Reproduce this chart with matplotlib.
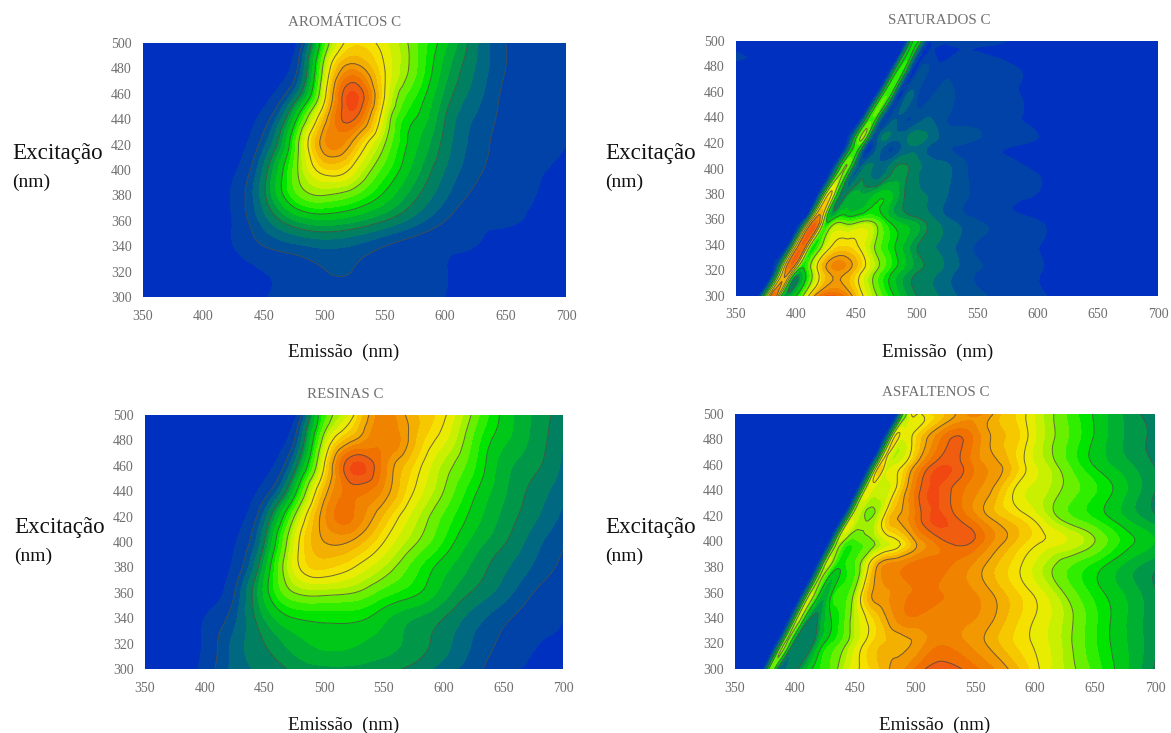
import numpy as np
import matplotlib
matplotlib.use('Agg')
import matplotlib.pyplot as plt
import matplotlib.tri as mtri
from matplotlib.colors import ListedColormap, BoundaryNorm

plt.rcParams['font.family'] = ['Liberation Serif', 'DejaVu Serif']

excitation = [300, 320, 340, 360, 380, 400, 420, 440, 460, 480, 500]
emission = [350, 375, 400, 425, 450, 475, 500, 525, 550, 575, 600, 625, 650, 675, 700]

aromaticos = [
    [0, 0, 0, 0, .9, 1.2, 1.3, 1.3, 1.25, 1.15, 1, .2, 0, 0, 0],
    [0, 0, 0, .2, 1, 1.3, 1.95, 1.95, 1.4, 1.2, 1.05, .3, 0, 0, 0],
    [0, 0, 0, 1, 2, 2.5, 2.8, 2.6, 2, 1.5, 1.2, 1, .3, 0, 0],
    [0, 0, 0, 1.1, 3, 4.6, 5.2, 4.8, 4, 3, 2, 1.3, 1.2, .7, .4],
    [0, 0, 0, 1.2, 3.8, 7, 8, 7.3, 5.8, 4.2, 2.8, 1.8, 1.3, 1, .6],
    [0, 0, 0, .8, 3.5, 7.5, 10.5, 9.5, 7, 5, 3.3, 2.2, 1.5, 1.1, .8],
    [0, 0, 0, .3, 2.5, 7, 12.5, 11.5, 8, 5.5, 3.7, 2.4, 1.6, 1.2, 1],
    [0, 0, 0, 0, 1.5, 5.5, 11.5, 14, 9, 6, 4, 2.6, 1.7, 1.2, 1.05],
    [0, 0, 0, 0, .5, 3, 9.5, 14.8, 10, 6.8, 4.5, 3, 1.8, 1.3, 1.1],
    [0, 0, 0, 0, 0, 1.5, 8.5, 12.5, 10, 7.5, 5, 3.3, 2, 1.4, 1.15],
    [0, 0, 0, 0, 0, .5, 7, 10.5, 9.5, 7.5, 5.5, 3.5, 2, 1.5, 1.2],
]

resinas = [
    [0, 0, 1.4, 2.9, 3.5, 4.2, 4.5, 4.5, 4.2, 3.8, 3, 2.3, 1.3, .8, .1],
    [0, 0, 1.2, 2.9, 4, 5, 5.5, 5.4, 5, 4.4, 3.6, 2.6, 1.8, 1.1, .8],
    [0, 0, 1, 2.5, 4.7, 6, 6.2, 6.2, 5.5, 4.7, 4, 3, 2.2, 1.5, 1],
    [0, 0, .2, 2, 5.5, 8, 8.3, 8, 7, 6.2, 5, 3.9, 3, 2, 1.3],
    [0, 0, 0, 1.3, 5, 9.5, 10.8, 10, 8.6, 7, 5.6, 4.5, 3.5, 2.6, 1.8],
    [0, 0, 0, .9, 4, 9.3, 12, 11.8, 10, 8.2, 6.6, 5.1, 4.1, 3, 2.1],
    [0, 0, 0, .4, 3, 8, 12.5, 13.3, 11.2, 9, 7.2, 5.7, 4.5, 3.5, 2.5],
    [0, 0, 0, 0, 1.5, 5.5, 11.5, 13.6, 12.5, 10, 8, 6.2, 4.8, 3.8, 2.9],
    [0, 0, 0, 0, .5, 3.5, 10, 14.8, 13, 10.6, 8.5, 6.8, 5, 4.2, 3.2],
    [0, 0, 0, 0, 0, 2, 8.5, 12, 13.3, 11.5, 9.5, 7.2, 5.5, 4.5, 3.4],
    [0, 0, 0, 0, 0, .5, 7, 10, 13, 11.5, 10.2, 7.8, 5.8, 4.6, 3.6],
]

# saturados e asfaltenos: colunas seguem a diagonal de espalhamento
offsets = [-170, -1, 3, 6, 9, 13, 18, 25, 35, 50, 70, 90, 110, 130, 150, 175, 210, 240, 270, 300, 340]
edge_sat = [368, 380, 392, 405, 417, 429, 441, 453, 466, 478, 490]
edge_asf = [373, 384, 395, 406, 417, 428, 440, 451, 462, 473, 484]

saturados = [
    [0, 0, 3, 7, 11, 15, 9, 5.5, 8, 14, 14.5, 10.5, 7.4, 5.1, 4, 2.5, 1.6, 1, .2, 0, 0],
    [0, 0, 3, 7, 11, 14, 10, 6.5, 10, 13.5, 12, 8.5, 6, 4.6, 3.2, 1.9, 1.3, .6, 0, 0, 0],
    [0, 0, 3, 8, 12, 15, 11, 7.5, 10.5, 11.5, 9.5, 7, 4.9, 3.7, 2.3, 1.5, 1, .4, 0, 0, 0],
    [0, 0, 3, 8, 12, 14, 9, 7, 8, 8.5, 7, 5.5, 4, 2.6, 1.8, 1.3, .7, .1, 0, 0, 0],
    [0, 0, 3, 7, 10.5, 10.5, 6, 5, 5.8, 6.4, 5.4, 4, 2.9, 1.9, 1.4, 1.05, .5, 0, 0, 0, 0],
    [0, 0, 3, 6, 8.5, 8.5, 4.5, 3.5, 3.8, 4.6, 4.4, 3.5, 2.2, 1.6, 1.2, .9, .3, 0, 0, 0, 0],
    [0, 0, 3, 6, 8, 8, 3, 2.5, 3, 3.7, 3.2, 2.2, 1.7, 1.3, 1, .5, 0, 0, 0, 0, 0],
    [0, 0, 2.5, 6, 8, 7.5, 3, 2, 2.5, 2.6, 2.2, 1.7, 1.3, 1.05, .6, .2, 0, 0, 0, 0, 0],
    [0, 0, 2.5, 6, 8, 7.5, 2.5, 2, 2.1, 2.05, 1.6, 1.3, 1.1, .8, .3, 0, 0, 0, 0, 0, 0],
    [0, 0, 2.5, 6, 7.5, 7, 2, 1.6, 1.5, 1.5, 1.4, 1.2, .9, .4, 0, 0, 0, 0, 0, 0, 0],
    [0, 0, 3, 6.5, 7.5, 6, 1.7, 1.4, 1.3, 1.3, 1.2, .9, .3, 0, 0, 0, 0, 0, 0, 0, 0],
]

asfaltenos = [
    [0, 0, 4, 8, 8, 4, 3.5, 4.7, 6, 7.8, 9.8, 11, 12.2, 13.6, 14.4, 13.6, 11.7, 10, 8.5, 6.6, 4],
    [0, 0, 4, 8, 9, 6, 4.5, 4.2, 6, 8, 10.2, 11.5, 11.9, 13, 13, 12, 10.6, 9.4, 7.5, 6, 3.5],
    [0, 0, 4, 8, 9.5, 7, 5, 5.2, 7, 8.8, 11, 12.8, 13.2, 13, 12.8, 11.8, 10.3, 8.8, 6.9, 5.4, 3],
    [0, 0, 4, 8, 9.5, 8, 6, 7, 8, 10.6, 12.6, 13.3, 13.4, 13.1, 12.4, 11.2, 9.5, 7.6, 6.2, 4.8, 3],
    [0, 0, 4, 8, 9.5, 8.5, 7.2, 7.6, 8.6, 11.8, 13.2, 13.8, 13.4, 12.6, 11.5, 10.3, 8.4, 7, 5.6, 4.5, 3],
    [0, 0, 4, 8, 9.5, 8.8, 8, 8.3, 8.8, 10, 11.7, 13.5, 14.3, 13.2, 11.8, 10.6, 9.6, 7.8, 6.4, 5, 4],
    [0, 0, 4, 8, 9.8, 9.6, 9, 9, 10.7, 12.2, 14.5, 14.3, 12.8, 11.5, 10.7, 9.2, 7.5, 6, 4.7, 3.8, 3],
    [0, 0, 4, 8, 10, 10, 9.6, 9.8, 10.9, 13.5, 14.6, 13.3, 12.2, 10.6, 9.8, 8.8, 7.2, 5.5, 4.3, 3.6, 3],
    [0, 0, 4, 8, 10.7, 10.4, 9.8, 10.2, 11.5, 13.8, 14.5, 13, 12, 10.5, 9.4, 7.7, 6, 4.9, 4, 3.5, 3],
    [0, 0, 4, 8, 10.6, 10.4, 10, 10.6, 11.8, 13.5, 13.8, 12, 11.2, 9.8, 8.6, 7, 5.3, 4.5, 3.8, 3.5, 3],
    [0, 0, 3, 7, 9, 10.5, 10.5, 10.8, 11.2, 12, 12.8, 11.4, 10.4, 9.1, 7.8, 6.4, 4.8, 4.2, 3.6, 3.2, 3],
]

colors = ['#0030c0', '#0042a8', '#005098', '#006880', '#008060', '#009848', '#00b030', '#00c818',
          '#00e400', '#30ee00', '#68f000', '#a0f000', '#c8f000', '#e8ec00', '#f6e000', '#f6c800',
          '#f4b000', '#f29800', '#f08400', '#f07000', '#f05c10', '#f04810']
# cada arquivo tem a sua escala
levels_a = [0, 1, 2, 2.67, 3.33, 4, 4.67, 5.33, 6, 6.67, 7.33, 8, 8.67, 9.33, 10, 10.67, 11.33, 12,
            12.67, 13.33, 14, 14.67, 15.33]
levels_s = [0, 1, 2, 3, 4, 5, 5.67, 6.33, 7, 7.67, 8.33, 9, 9.67, 10.33, 11, 11.67, 12.33, 13,
            13.67, 14.33, 15, 15.67, 16.33]
levels_f = [0, 1, 2, 3, 4, 5, 5.67, 6.33, 7, 7.67, 8.33, 9, 9.5, 10, 10.5, 11, 11.5, 12,
            12.67, 13.33, 14, 14.67, 15.33]
cmap = ListedColormap(colors)

W = 1171.0
H = 733.0
fig = plt.figure(figsize=(W / 100, H / 100), dpi=100)
fig.patch.set_facecolor('white')


def txt(x, y, s, size, col='#111111', ha='left'):
    fig.text(x / W, 1 - y / H, s, fontsize=size, color=col, ha=ha, va='center')


def grid_tri(X, Y):
    n, m = X.shape
    tris = []
    for i in range(n - 1):
        for j in range(m - 1):
            a = i * m + j
            tris.append([a, a + 1, a + m])
            tris.append([a + 1, a + m + 1, a + m])
    return mtri.Triangulation(X.ravel(), Y.ravel(), np.array(tris))


def panel(box, X, Y, Z, title, levs, lines, tx, labx, laby, emx, emy):
    x0, y0, x1, y1 = box
    ax = fig.add_axes([x0 / W, 1 - y1 / H, (x1 - x0) / W, (y1 - y0) / H])
    ax.set_facecolor(colors[0])
    tri = grid_tri(X, Y)
    refiner = mtri.UniformTriRefiner(tri)
    tri2, z2 = refiner.refine_field(Z.ravel(), subdiv=3)
    z2 = np.clip(z2, 0, None)
    ax.tricontourf(tri2, z2, levels=levs, cmap=cmap, norm=BoundaryNorm(levs, cmap.N), extend='max')
    ax.tricontour(tri2, z2, levels=lines, colors='#4a4a4a', linewidths=0.7, alpha=0.8)
    ax.set_xlim(350, 700)
    ax.set_ylim(300, 500)
    ax.set_xticks(range(350, 701, 50))
    ax.set_yticks(range(300, 501, 20))
    ax.tick_params(length=0, labelsize=10, labelcolor='#6e6e6e', pad=9)
    ax.tick_params(axis='y', pad=8)
    for s in ax.spines.values():
        s.set_visible(False)
    txt(tx, y0 - 21, title, 10.8, '#707070', ha='center')
    txt(labx, laby, 'Excitação', 16.6)
    txt(labx, laby + 28, '(nm)', 14)
    txt(emx, emy, 'Emissão  (nm)', 13.8, ha='center')


Yg = np.array(excitation, dtype=float)
off = np.array(offsets, dtype=float)
Xreg, Yreg = np.meshgrid(np.array(emission, dtype=float), Yg)
Xsat = np.array(edge_sat, dtype=float)[:, None] + off
Xasf = np.array(edge_asf, dtype=float)[:, None] + off
Ysh = np.repeat(Yg[:, None], len(off), axis=1)

panel((143, 43, 566, 297), Xreg, Yreg, np.array(aromaticos, dtype=float), 'AROMÁTICOS C', levels_a,
      [2, 4, 6, 8, 10, 12, 14], 345, 12, 154, 344, 352)
panel((736, 41, 1158, 296), Xsat, Ysh, np.array(saturados, dtype=float), 'SATURADOS C', levels_s,
      [5, 7, 9, 11, 13], 939, 605, 154, 938, 352)
panel((145, 415, 563, 669), Xreg, Yreg, np.array(resinas, dtype=float), 'RESINAS C', levels_a,
      [2, 4, 6, 8, 10, 12, 14], 345, 14, 528, 344, 725)
panel((735, 414, 1155, 669), Xasf, Ysh, np.array(asfaltenos, dtype=float), 'ASFALTENOS C', levels_f,
      [5, 7, 9, 10.5, 12, 14], 936, 605, 528, 935, 725)

fig.savefig('out.png', dpi=100)
